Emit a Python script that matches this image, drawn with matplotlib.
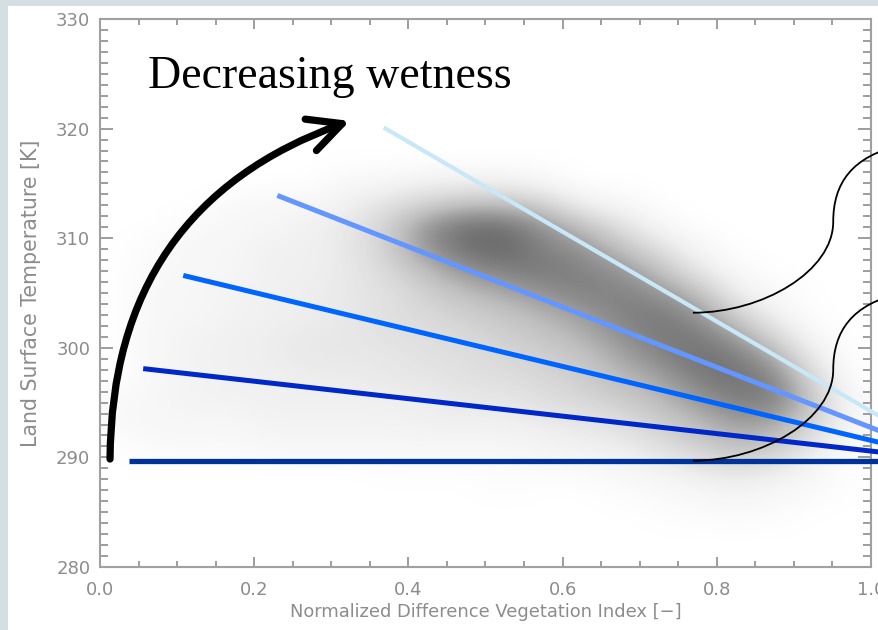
import numpy as np
import matplotlib.pyplot as plt
from matplotlib.colors import PowerNorm
from matplotlib.patches import FancyArrowPatch, PathPatch, Rectangle
from matplotlib.path import Path
from matplotlib.ticker import MultipleLocator

# point cloud read off the picture as a density grid
# rows: LST 317, 315, ... 283 K ; columns: NDVI bins 0.00-0.05 ... 0.95-1.00
cloud_ndvi_range = [0.0, 1.0]
cloud_lst_range = [282, 318]
cloud_density = [
    [0, 0, 0, 0, 0, 0, 0, 0, 0, 0, 0, 0, 0, 0, 0, 0, 0, 0, 0, 0],
    [0, 0, 0, 0, 0, 0, .5, .5, 1, 1, 1, .5, 0, 0, 0, 0, 0, 0, 0, 0],
    [0, 0, 0, .3, .5, .5, 1, 2, 3, 4, 4, 3, 1, .5, 0, 0, 0, 0, 0, 0],
    [0, 0, .3, .5, .5, 1, 1.5, 3, 6, 8, 8, 6, 4, 2, .5, 0, 0, 0, 0, 0],
    [0, .3, .5, .5, 1, 1, 1.5, 3, 6, 8, 8.5, 7, 6, 4, 2, .5, 0, 0, 0, 0],
    [0, .3, .5, .5, 1, 1, 1.5, 2.5, 4, 6, 7, 7.5, 7, 6, 4, 1.5, .3, 0, 0, 0],
    [0, .5, .5, .8, 1, 1.2, 1.5, 2, 3, 4, 5, 6, 7, 7, 6, 4, 1, .3, 0, 0],
    [0, .5, .5, .8, 1, 1.2, 1.5, 2, 2.5, 3, 3.5, 4.5, 5.5, 7, 7.5, 6, 3, .8, 0, 0],
    [0, .5, .8, 1, 1.2, 1.5, 1.5, 2, 2, 2.5, 3, 3.5, 4.5, 6, 7.5, 7.5, 5.5, 2.5, .3, 0],
    [0, .5, .8, 1, 1.2, 1.5, 1.5, 1.5, 2, 2, 2.5, 3, 3.5, 5, 6.5, 8, 7.5, 5, 1.2, 0],
    [0, .5, .8, 1, 1, 1.2, 1.2, 1.5, 1.5, 2, 2, 2.5, 3, 4, 5, 7, 8, 7, 2.5, 0],
    [.3, .5, .8, .8, 1, 1, 1, 1, 1.2, 1.5, 1.5, 2, 2.5, 3, 4, 5.5, 7, 7, 3.5, .3],
    [.3, .5, .5, .5, .8, .8, .8, .8, 1, 1, 1, 1.2, 1.5, 2, 3, 4, 5.5, 5, 2.5, .3],
    [0, .3, .3, .3, .5, .5, .5, .5, .5, .5, .5, .8, 1, 1.2, 2, 3, 4, 3.5, 1.5, .3],
    [0, 0, 0, 0, 0, 0, 0, .1, .1, .1, .2, .2, .3, .5, .8, 1.5, 2, 1.5, .5, 0],
    [0, 0, 0, 0, 0, 0, 0, 0, 0, 0, .1, 0, 0, .2, .3, .5, .8, .5, .3, 0],
    [0, 0, 0, 0, 0, 0, 0, 0, 0, 0, 0, 0, 0, 0, .1, .2, .3, .2, 0, 0],
    [0, 0, 0, 0, 0, 0, 0, 0, 0, 0, 0, 0, 0, 0, 0, 0, 0, 0, 0, 0],
]

# wet edge lines, all meeting at one point on the 289.7 K line
line_start_ndvi = [0.038, 0.056, 0.108, 0.230, 0.368]
line_start_lst = [289.7, 298.1, 306.6, 313.9, 320.1]
line_end_ndvi = 1.11
line_end_lst = 289.7
line_colors = ['#003399', '#0028c8', '#0064ff', '#6496ff', '#c8e8fa']
line_widths = [3.8, 3.6, 3.6, 3.6, 3.0]

xticks = [0.0, 0.2, 0.4, 0.6, 0.8, 1.0]
xtick_labels = ['0.0', '0.2', '0.4', '0.6', '0.8', '1.0']
yticks = [280, 290, 300, 310, 320, 330]

gray = '#8c8c8c'

fig = plt.figure(figsize=(8.79, 6.30), dpi=100, facecolor='#d5dee2')
fig.patches.append(Rectangle((8 / 879, 0), 1, 1 - 6 / 630, transform=fig.transFigure,
                             facecolor='white', edgecolor='none', zorder=-5))
ax = fig.add_axes([100 / 879, 1 - 567 / 630, 771 / 879, 548 / 630])
ax.set_facecolor('white')

ax.imshow(np.array(cloud_density), extent=cloud_ndvi_range + cloud_lst_range,
          origin='upper', cmap='Greys', norm=PowerNorm(0.8, vmin=0, vmax=14),
          interpolation='bicubic', aspect='auto', zorder=1)

for x0, y0, c, lw in zip(line_start_ndvi, line_start_lst, line_colors, line_widths):
    ax.plot([x0, line_end_ndvi], [y0, line_end_lst], color=c, lw=lw,
            solid_capstyle='butt', clip_on=False, zorder=3)

# callout curves towards the right edge
callout_start_lst = [303.2, 289.7]
for y0 in callout_start_lst:
    dy = [0, 0, 3.8, 8.3, 11.8, 14.3, 15.3]
    xs = [0.769, 0.86, 0.951, 0.951, 0.951, 0.975, 1.04]
    verts = [(x, y0 + d) for x, d in zip(xs, dy)]
    codes = [Path.MOVETO] + [Path.CURVE4] * 6
    ax.add_patch(PathPatch(Path(verts, codes), facecolor='none', edgecolor='black',
                           lw=1.3, clip_on=False, zorder=4))

arrow = FancyArrowPatch((0.013, 289.85), (0.324, 320.7),
                        connectionstyle='arc3,rad=-0.35',
                        arrowstyle='->,head_length=1.2,head_width=0.6',
                        mutation_scale=20, lw=5.2, color='black',
                        shrinkA=0, shrinkB=0, zorder=5)
ax.add_patch(arrow)

ax.text(0.0623, 323.7, 'Decreasing wetness', family='Liberation Serif', fontsize=33,
        va='baseline', ha='left', color='black', zorder=6)

ax.set_xlim(0, 1)
ax.set_ylim(280, 330)
ax.set_xticks(xticks)
ax.set_xticklabels(xtick_labels)
ax.set_yticks(yticks)
ax.xaxis.set_minor_locator(MultipleLocator(0.05))
ax.yaxis.set_minor_locator(MultipleLocator(1))
ax.tick_params(which='both', direction='in', top=True, right=True, color=gray,
               labelcolor=gray, labelsize=13, width=1.2)
ax.tick_params(axis='x', which='major', length=7.5, pad=10)
ax.tick_params(axis='x', which='minor', length=4.5)
ax.tick_params(axis='y', which='major', length=9.5, pad=7)
ax.tick_params(axis='y', which='minor', length=5.5)
for s in ax.spines.values():
    s.set_color('#a0a0a0')
    s.set_linewidth(1.5)

ax.set_xlabel('Normalized Difference Vegetation Index [\u2212]', color=gray, fontsize=12.9)
ax.set_ylabel('Land Surface Temperature [K]', color=gray, fontsize=14.8)
ax.xaxis.set_label_coords(0.5, -0.066)
ax.yaxis.set_label_coords(-0.076, 0.5)

fig.savefig('out.png', dpi=100, facecolor=fig.get_facecolor())
